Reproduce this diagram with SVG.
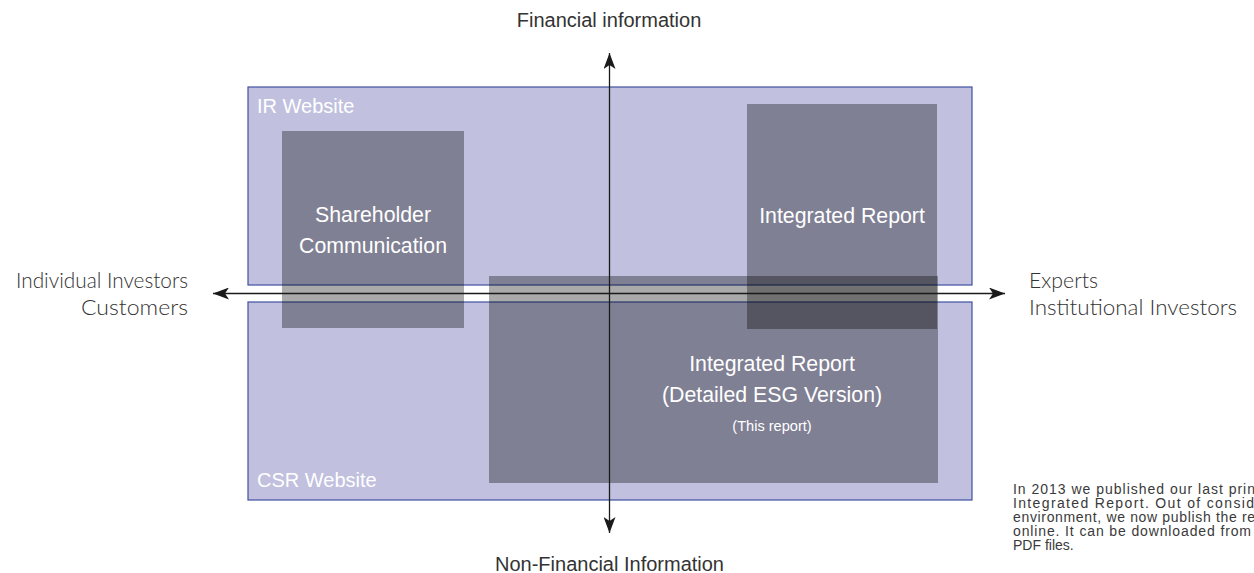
<svg xmlns="http://www.w3.org/2000/svg" width="1254" height="573" viewBox="0 0 1254 573">
<defs>
<style>
.zone{fill:#c1c0de;stroke:#3f51a0;stroke-width:1.2}
.doc{fill:#000;fill-opacity:0.333}
.wt{fill:#ffffff;font-family:"Liberation Sans",Arial,sans-serif}
.lbl{fill:#333;font-family:"Liberation Sans",Arial,sans-serif;font-size:20px}
.aud{fill:#333;font-family:Lato,"Open Sans",sans-serif;font-weight:300;font-size:21px}
.note{fill:#3a3a3a;font-family:"Liberation Sans",Arial,sans-serif;font-size:14px}
.axis{stroke:#1a1a1a;stroke-width:1.3;fill:none}
</style>
<marker id="arr" markerUnits="userSpaceOnUse" markerWidth="16" markerHeight="12" refX="16" refY="6" orient="auto-start-reverse" viewBox="0 0 16 12">
<path d="M0,0 L16,6 L0,12 L4,6 Z" fill="#1a1a1a"/>
</marker>
</defs>
<rect width="1254" height="573" fill="#ffffff"/>

<g id="ir-website">
<rect class="zone" x="248" y="87" width="724" height="198"/>
<text class="wt" x="257" y="112.5" font-size="20">IR Website</text>
</g>
<g id="csr-website">
<rect class="zone" x="248" y="302" width="724" height="198"/>
<text class="wt" x="257" y="487" font-size="20">CSR Website</text>
</g>

<g id="shareholder-communication">
<rect class="doc" x="282" y="131" width="182" height="197"/>
<text class="wt" x="373" y="221.5" font-size="21.3" text-anchor="middle">Shareholder</text>
<text class="wt" x="373" y="252.5" font-size="21.3" text-anchor="middle">Communication</text>
</g>
<g id="integrated-report">
<rect class="doc" x="747" y="104" width="190" height="225"/>
<text class="wt" x="842" y="223" font-size="21.3" text-anchor="middle">Integrated Report</text>
</g>
<g id="integrated-report-esg">
<rect class="doc" x="489" y="276" width="449" height="207"/>
<text class="wt" x="772" y="370.5" font-size="21.3" text-anchor="middle">Integrated Report</text>
<text class="wt" x="772" y="401.5" font-size="21.3" text-anchor="middle">(Detailed ESG Version)</text>
<text class="wt" x="772" y="431" font-size="14.6" text-anchor="middle">(This report)</text>
</g>

<g id="connectors">
<line class="axis" x1="213" y1="293.5" x2="1005" y2="293.5" marker-start="url(#arr)" marker-end="url(#arr)"/>
<line class="axis" x1="609.5" y1="53" x2="609.5" y2="533" marker-start="url(#arr)" marker-end="url(#arr)"/>
</g>

<g id="axis-labels">
<text class="lbl" x="609" y="27" text-anchor="middle">Financial information</text>
<text class="lbl" x="609.5" y="571" text-anchor="middle">Non-Financial Information</text>
<text class="aud" x="16" y="288" textLength="172" lengthAdjust="spacingAndGlyphs">Individual Investors</text>
<text class="aud" x="81" y="315" textLength="107" lengthAdjust="spacingAndGlyphs">Customers</text>
<text class="aud" x="1029" y="287.5" textLength="69" lengthAdjust="spacingAndGlyphs">Experts</text>
<text class="aud" x="1029" y="314.5" textLength="208" lengthAdjust="spacingAndGlyphs">Institutional Investors</text>
</g>

<g id="note">
<text class="note" x="1013" y="494" textLength="242" lengthAdjust="spacing">In 2013 we published our last prin</text>
<text class="note" x="1013" y="508" textLength="241" lengthAdjust="spacing">Integrated Report. Out of consid</text>
<text class="note" x="1013" y="522" textLength="242" lengthAdjust="spacing">environment, we now publish the re</text>
<text class="note" x="1013" y="536" textLength="238" lengthAdjust="spacing">online. It can be downloaded from</text>
<text class="note" x="1013" y="550">PDF files.</text>
</g>
</svg>
